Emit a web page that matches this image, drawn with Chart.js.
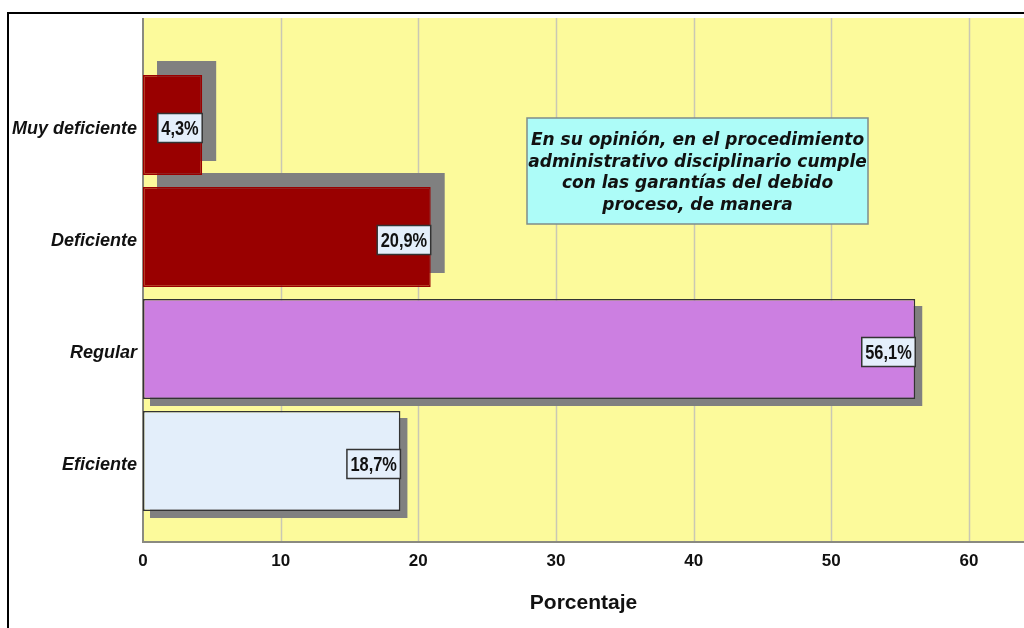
<!DOCTYPE html>
<html lang="es">
<head>
<meta charset="utf-8">
<title>Porcentaje</title>
<script src="https://cdn.jsdelivr.net/npm/chart.js@4/dist/chart.umd.min.js"></script>
<style>
  html, body { margin: 0; padding: 0; background: #ffffff; }
  #wrap { width: 1024px; height: 628px; }
</style>
</head>
<body>
<div id="wrap"><canvas id="opinionChart" width="1024" height="628"></canvas></div>
<script>
const categorias = ['Muy deficiente', 'Deficiente', 'Regular', 'Eficiente'];
const porcentajes = [4.3, 20.9, 56.1, 18.7];
const ejeMin = 0;
const ejeMax = 64;
const ejePaso = 10;
const notaLineas = [
  'En su opinión, en el procedimiento',
  'administrativo disciplinario cumple',
  'con las garantías del debido',
  'proceso, de manera'
];

const sans = '"Liberation Sans", Arial, sans-serif';

function formatoPct(v) {
  return v.toFixed(1).replace('.', ',') + '%';
}

// frame, yellow plot panel and vertical grid lines
const panelPlugin = {
  id: 'panel',
  beforeDraw(chart) {
    const { ctx, chartArea, scales } = chart;
    const top = chartArea.top - 51;
    const bottom = chartArea.bottom + 25;
    ctx.save();
    ctx.strokeStyle = '#000000';
    ctx.lineWidth = 2;
    ctx.beginPath();
    ctx.moveTo(8, chart.height);
    ctx.lineTo(8, 13);
    ctx.lineTo(chart.width, 13);
    ctx.stroke();

    ctx.fillStyle = '#fcfa9b';
    ctx.fillRect(chartArea.left, top, chartArea.right - chartArea.left, bottom - top);

    ctx.strokeStyle = '#c9c8b4';
    ctx.lineWidth = 1.5;
    scales.x.ticks.forEach(t => {
      if (t.value === 0) return;
      const px = Math.round(scales.x.getPixelForValue(t.value)) + 0.5;
      ctx.beginPath();
      ctx.moveTo(px, top);
      ctx.lineTo(px, bottom);
      ctx.stroke();
    });

    ctx.strokeStyle = '#8a8a80';
    ctx.lineWidth = 2;
    ctx.beginPath();
    ctx.moveTo(chartArea.left, top);
    ctx.lineTo(chartArea.left, bottom);
    ctx.lineTo(chartArea.right, bottom);
    ctx.stroke();
    ctx.restore();
  }
};

// gray drop shadows behind the bars
const sombraPlugin = {
  id: 'sombra',
  beforeDatasetsDraw(chart) {
    const { ctx } = chart;
    const desplaz = [[14, -14], [14, -14], [7, 7], [7, 7]];
    ctx.save();
    ctx.fillStyle = '#808080';
    chart.getDatasetMeta(0).data.forEach((bar, i) => {
      const p = bar.getProps(['x', 'y', 'base', 'height'], true);
      const [dx, dy] = desplaz[i];
      ctx.fillRect(p.base + dx, p.y - p.height / 2 + dy, p.x - p.base, p.height);
    });
    ctx.restore();
  }
};

// value boxes at the end of each bar and the question box
const etiquetasPlugin = {
  id: 'etiquetas',
  afterDatasetsDraw(chart) {
    const { ctx } = chart;
    const estrecho = 0.82;
    ctx.save();
    ctx.font = 'bold 20px ' + sans;
    ctx.textBaseline = 'middle';
    ctx.textAlign = 'center';
    chart.getDatasetMeta(0).data.forEach((bar, i) => {
      const p = bar.getProps(['x', 'y'], true);
      const txt = formatoPct(porcentajes[i]);
      const w = ctx.measureText(txt).width * estrecho + 7;
      const h = 29;
      const x0 = p.x - w;
      const y0 = p.y - h / 2 + 3;
      ctx.fillStyle = '#e4effb';
      ctx.fillRect(x0, y0, w, h);
      ctx.strokeStyle = '#333333';
      ctx.lineWidth = 1.5;
      ctx.strokeRect(x0, y0, w, h);
      ctx.fillStyle = '#111111';
      ctx.save();
      ctx.translate(x0 + w / 2, y0 + h / 2 + 1);
      ctx.scale(estrecho, 1);
      ctx.fillText(txt, 0, 0);
      ctx.restore();
    });

    const bx = 527, by = 118, bw = 341, bh = 106;
    ctx.fillStyle = '#adfcf8';
    ctx.fillRect(bx, by, bw, bh);
    ctx.strokeStyle = '#7f8c8a';
    ctx.lineWidth = 1.5;
    ctx.strokeRect(bx, by, bw, bh);
    ctx.fillStyle = '#111111';
    ctx.font = 'italic bold 17px "DejaVu Sans", sans-serif';
    notaLineas.forEach((linea, i) => {
      ctx.fillText(linea, bx + bw / 2, by + 23 + i * 21.5);
    });
    ctx.restore();
  }
};

new Chart(document.getElementById('opinionChart'), {
  type: 'bar',
  data: {
    labels: categorias,
    datasets: [{
      data: porcentajes,
      backgroundColor: ['#990000', '#990000', '#cc7fe1', '#e3eefa'],
      borderColor: ['#990000', '#990000', '#333333', '#333333'],
      borderWidth: 1.5,
      borderSkipped: false,
      categoryPercentage: 1,
      barPercentage: 100 / 112
    }]
  },
  options: {
    indexAxis: 'y',
    responsive: false,
    animation: false,
    layout: { padding: { top: 69, right: 0, bottom: 0, left: 0 } },
    plugins: {
      legend: { display: false },
      tooltip: { enabled: false }
    },
    scales: {
      x: {
        type: 'linear',
        min: ejeMin,
        max: ejeMax,
        grid: { display: false, drawTicks: false },
        border: { display: false },
        ticks: {
          stepSize: ejePaso,
          includeBounds: false,
          maxRotation: 0,
          padding: 34,
          color: '#111111',
          font: { family: sans, size: 17, weight: 'bold' }
        },
        title: {
          display: true,
          text: 'Porcentaje',
          color: '#111111',
          padding: { top: 4, bottom: 12 },
          font: { family: sans, size: 21, weight: 'bold' }
        },
        afterFit(scale) { scale.height = 111; }
      },
      y: {
        grid: { display: false, drawTicks: false },
        border: { display: false },
        ticks: {
          padding: 6,
          labelOffset: 4,
          color: '#111111',
          font: { family: sans, size: 18, weight: 'bold', style: 'italic' }
        },
        afterFit(scale) { scale.width = 143; }
      }
    }
  },
  plugins: [panelPlugin, sombraPlugin, etiquetasPlugin]
});
</script>
</body>
</html>
